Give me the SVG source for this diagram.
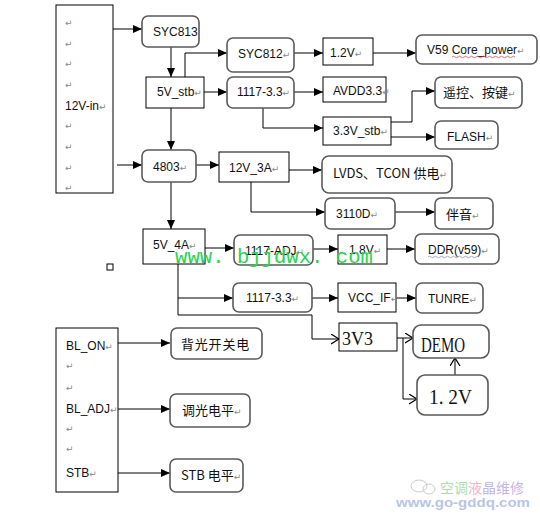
<svg xmlns="http://www.w3.org/2000/svg" width="540" height="514" viewBox="0 0 540 514">
<style>
.bg{fill:#fff}
.r{fill:#fff;stroke:#000;stroke-width:1}
.rr{fill:#fff;stroke:#5a5a5a;stroke-width:1.6}
.t{font-family:"Liberation Sans","Noto Sans CJK SC",sans-serif;font-size:12px;fill:#111}
.c{font-family:"Noto Sans CJK SC","Liberation Sans",sans-serif;font-size:13px;fill:#111}
.s{font-family:"Liberation Serif","Noto Sans CJK SC",serif;fill:#111}
.rt{font-family:"DejaVu Sans",sans-serif;font-size:9px;fill:#888}
.ln{fill:none;stroke:#000;stroke-width:1}
.a{marker-end:url(#arr)}
.o{marker-end:url(#oarr)}
</style>
<defs>
<marker id="arr" markerUnits="userSpaceOnUse" markerWidth="10" markerHeight="9" refX="9" refY="4" orient="auto">
<path d="M0,0 L9,4 L0,8 z" fill="#000"/>
</marker>
<marker id="oarr" markerUnits="userSpaceOnUse" markerWidth="10" markerHeight="12" refX="8" refY="5" orient="auto">
<path d="M0,0 L8,5 L0,10" fill="none" stroke="#000" stroke-width="1.2"/>
</marker>
</defs>
<rect class="bg" x="0" y="0" width="540" height="514"/>

<g id="connectors">
<path class="ln a" d="M113,29 H142"/>
<path class="ln a" d="M171,47 V77"/>
<path class="ln a" d="M185,77 V53 H227"/>
<path class="ln a" d="M204,92 H227"/>
<path class="ln a" d="M171,108 V150"/>
<path class="ln a" d="M117,165 H142"/>
<path class="ln a" d="M294,53 H323"/>
<path class="ln a" d="M373,53 H416"/>
<path class="ln a" d="M294,92 H323"/>
<path class="ln a" d="M263,108 V128 H323"/>
<path class="ln a" d="M391,122 H412 V91 H435"/>
<path class="ln a" d="M391,137 H435"/>
<path class="ln a" d="M196,165 H219"/>
<path class="ln a" d="M289,170 H322"/>
<path class="ln a" d="M251,182 V212 H325"/>
<path class="ln a" d="M395,212 H435"/>
<path class="ln a" d="M171,182 V229"/>
<path class="ln a" d="M205,248 H234"/>
<path class="ln a" d="M313,249 H338"/>
<path class="ln a" d="M387,249 H415"/>
<path class="ln a" d="M178,264 V298 H233"/>
<path class="ln o" d="M178,298 V315 H312 V339 H339"/>
<path class="ln a" d="M312,298 H338"/>
<path class="ln a" d="M396,298 H416"/>
<path class="ln o" d="M397,338 H413"/>
<path class="ln o" d="M403,338 V399 H417"/>
<path class="ln o" d="M455,375 V358"/>
<path class="ln a" d="M118,343 H170"/>
<path class="ln a" d="M118,409 H170"/>
<path class="ln a" d="M118,473 H170"/>
</g>

<g id="n12vin">
<rect class="r" x="56" y="5" width="57" height="188"/>
<text class="rt" x="65" y="26">↵</text>
<text class="rt" x="65" y="47">↵</text>
<text class="rt" x="65" y="67">↵</text>
<text class="rt" x="65" y="88">↵</text>
<text class="t" x="65" y="110" font-size="13">12V-in<tspan class="rt">↵</tspan></text>
<text class="rt" x="65" y="129">↵</text>
<text class="rt" x="65" y="150">↵</text>
<text class="rt" x="65" y="171">↵</text>
<text class="rt" x="65" y="191">↵</text>
</g>

<g id="syc813">
<rect class="rr" x="142" y="16" width="57" height="31" rx="6"/>
<text class="t" x="153" y="36" font-size="11.5">SYC813</text>
</g>
<g id="v5stb">
<rect class="r" x="146" y="77" width="58" height="31"/>
<text class="t" x="157" y="96">5V_stb<tspan class="rt">↵</tspan></text>
</g>
<g id="n4803">
<rect class="rr" x="142" y="150" width="54" height="32" rx="6"/>
<text class="t" x="153" y="171" font-size="13">4803<tspan class="rt">↵</tspan></text>
</g>
<g id="syc812">
<rect class="rr" x="227" y="38" width="67" height="34" rx="6"/>
<text class="t" x="238" y="58" font-size="13">SYC812<tspan class="rt">↵</tspan></text>
</g>
<g id="v12a">
<rect class="r" x="323" y="38" width="50" height="27"/>
<text class="t" x="330" y="57">1.2V<tspan class="rt">↵</tspan></text>
</g>
<g id="v59">
<rect class="rr" x="416" y="35" width="121" height="29" rx="6"/>
<text class="t" x="427" y="54">V59 Core_power<tspan class="rt">↵</tspan></text>
<path d="M452,57 q1.5,-1.5 3,0 t3,0 t3,0 t3,0 t3,0 t3,0 t3,0 t3,0 t3,0 t3,0 t3,0 t3,0 t3,0 t3,0 t3,0 t3,0 t3,0 t3,0 t3,0 t3,0 t3,0" fill="none" stroke="#d33" stroke-width="0.7"/>
</g>
<g id="ldo33a">
<rect class="rr" x="227" y="77" width="67" height="31" rx="6"/>
<text class="t" x="237" y="96" font-size="11.5">1117-3.3<tspan class="rt">↵</tspan></text>
</g>
<g id="avdd">
<rect class="r" x="323" y="77" width="63" height="25"/>
<text class="t" x="333" y="95" font-size="11">AVDD3.3<tspan class="rt">↵</tspan></text>
</g>
<g id="v33stb">
<rect class="r" x="323" y="117" width="68" height="28"/>
<text class="t" x="333" y="135" font-size="11">3.3V_stb<tspan class="rt">↵</tspan></text>
</g>
<g id="remote">
<rect class="rr" x="435" y="77" width="87" height="31" rx="6"/>
<text class="c" x="443" y="97" font-size="14">遥控、按键<tspan class="rt">↵</tspan></text>
</g>
<g id="flash">
<rect class="rr" x="435" y="121" width="63" height="28" rx="6"/>
<text class="t" x="447" y="141" font-size="11.5">FLASH<tspan class="rt">↵</tspan></text>
</g>
<g id="v12a3">
<rect class="r" x="219" y="152" width="70" height="30"/>
<text class="t" x="229" y="172" font-size="13">12V_3A<tspan class="rt">↵</tspan></text>
</g>
<g id="lvds">
<rect class="rr" x="322" y="156" width="130" height="37" rx="7"/>
<text class="c" x="333" y="178">LVDS、TCON 供电<tspan class="rt">↵</tspan></text>
</g>
<g id="n3110d">
<rect class="rr" x="325" y="198" width="70" height="31" rx="6"/>
<text class="t" x="336" y="218" font-size="12.5">3110D<tspan class="rt">↵</tspan></text>
</g>
<g id="audio">
<rect class="rr" x="435" y="198" width="58" height="31" rx="6"/>
<text class="c" x="446" y="219" font-size="15">伴音<tspan class="rt">↵</tspan></text>
</g>
<g id="v5a4">
<rect class="r" x="143" y="229" width="62" height="35"/>
<text class="t" x="153" y="249" font-size="13">5V_4A<tspan class="rt">↵</tspan></text>
</g>
<g id="ldoadj">
<rect class="rr" x="234" y="235" width="79" height="30" rx="6"/>
<text class="t" x="245" y="255">1117-ADJ<tspan class="rt">↵</tspan></text>
</g>
<g id="v18">
<rect class="r" x="338" y="235" width="49" height="29"/>
<text class="t" x="349" y="254">1.8V<tspan class="rt">↵</tspan></text>
</g>
<g id="ddr">
<rect class="rr" x="415" y="234" width="84" height="30" rx="6"/>
<text class="t" x="428" y="254" font-size="12.5">DDR(v59)<tspan class="rt">↵</tspan></text>
<path d="M428,257 q1.5,-1.5 3,0 t3,0 t3,0 t3,0 t3,0 t3,0 t3,0 t3,0 t3,0 t3,0 t3,0 t3,0 t3,0 t3,0 t3,0 t3,0 t3,0" fill="none" stroke="#7a8aa8" stroke-width="0.7"/>
</g>
<g id="ldo33b">
<rect class="rr" x="233" y="283" width="79" height="29" rx="6"/>
<text class="t" x="246" y="302" font-size="12.5">1117-3.3<tspan class="rt">↵</tspan></text>
</g>
<g id="vccif">
<rect class="r" x="338" y="283" width="58" height="29"/>
<text class="t" x="348" y="302">VCC_IF<tspan class="rt">↵</tspan></text>
</g>
<g id="tunre">
<rect class="rr" x="416" y="283" width="67" height="30" rx="6"/>
<text class="t" x="428" y="303" font-size="13">TUNRE<tspan class="rt">↵</tspan></text>
</g>
<g id="v3v3">
<rect class="r" x="339" y="323" width="58" height="28"/>
<text class="s" x="342" y="345" font-size="19" textLength="31" lengthAdjust="spacingAndGlyphs">3V3</text>
</g>
<g id="demo">
<rect class="rr" x="413" y="325" width="76" height="33" rx="8"/>
<text class="s" x="421" y="352" font-size="21" textLength="44" lengthAdjust="spacingAndGlyphs">DEMO</text>
</g>
<g id="v12b">
<rect class="rr" x="417" y="375" width="71" height="40" rx="8"/>
<text class="s" x="429" y="404" font-size="21" textLength="43" lengthAdjust="spacingAndGlyphs">1. 2V</text>
</g>

<g id="blbox">
<rect class="r" x="56" y="328" width="62" height="164"/>
<text class="t" x="66" y="350" font-size="12.5">BL_ON<tspan class="rt">↵</tspan></text>
<text class="rt" x="66" y="369">↵</text>
<text class="rt" x="66" y="391">↵</text>
<text class="t" x="66" y="413" font-size="12.5">BL_ADJ<tspan class="rt">↵</tspan></text>
<text class="rt" x="66" y="432">↵</text>
<text class="rt" x="66" y="452">↵</text>
<text class="t" x="66" y="477" font-size="12.5">STB<tspan class="rt">↵</tspan></text>
</g>
<g id="blon">
<rect class="rr" x="171" y="328" width="91" height="31" rx="6"/>
<text class="c" x="181" y="349" letter-spacing="0.8">背光开关电</text>
</g>
<g id="bladj">
<rect class="rr" x="170" y="394" width="80" height="33" rx="6"/>
<text class="c" x="182" y="415">调光电平<tspan class="rt">↵</tspan></text>
</g>
<g id="stblvl">
<rect class="rr" x="170" y="459" width="73" height="33" rx="6"/>
<text class="c" x="181" y="480">STB 电平<tspan class="rt">↵</tspan></text>
</g>

<rect x="107" y="264" width="6" height="6" fill="none" stroke="#000" stroke-width="1"/>

<text x="175" y="263" font-family="Liberation Mono, monospace" font-size="20" fill="#2ad34f" textLength="198" lengthAdjust="spacingAndGlyphs">www. bjjdwx. com</text>

<g id="watermark" opacity="0.75">
<ellipse cx="419" cy="486" rx="8" ry="6" fill="none" stroke="#bbb" stroke-width="1"/>
<ellipse cx="429" cy="489" rx="6" ry="5" fill="none" stroke="#bbb" stroke-width="1"/>
<text x="440" y="493" font-family="Noto Sans CJK SC, sans-serif" font-size="14"><tspan fill="#8fd48f">空调</tspan><tspan fill="#e8a0b8">液</tspan><tspan fill="#b0a0d8">晶维修</tspan></text>
<text x="396" y="507" font-family="Liberation Sans, sans-serif" font-size="13" font-weight="bold" fill="#9fb2dc" textLength="134" lengthAdjust="spacingAndGlyphs">www.go-gddq.com</text>
</g>
</svg>
